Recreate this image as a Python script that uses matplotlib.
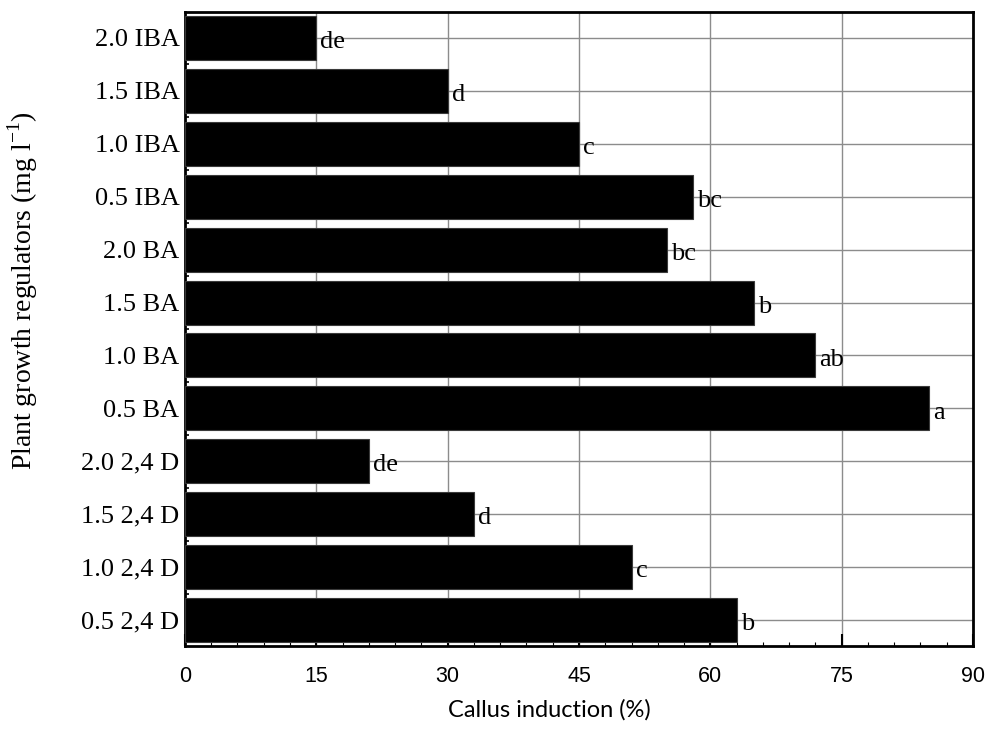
import numpy as np
import matplotlib.pyplot as plt
from matplotlib.ticker import MultipleLocator, FixedLocator

# bottom to top
treatments = ['0.5 2,4 D', '1.0 2,4 D', '1.5 2,4 D', '2.0 2,4 D',
              '0.5 BA', '1.0 BA', '1.5 BA', '2.0 BA',
              '0.5 IBA', '1.0 IBA', '1.5 IBA', '2.0 IBA']
callus = [63, 51, 33, 21, 85, 72, 65, 55, 58, 45, 30, 15]
letters = ['b', 'c', 'd', 'de', 'a', 'ab', 'b', 'bc', 'bc', 'c', 'd', 'de']
xticks = [0, 15, 30, 45, 60, 75, 90]

serif = 'Liberation Serif'
sans = 'Liberation Sans'

fig = plt.figure(figsize=(9.88, 7.29), dpi=100)
ax = fig.add_axes([0.1872, 0.1132, 0.7976, 0.8710])

y = np.arange(len(treatments))
ax.barh(y, callus, height=0.83, color='black', edgecolor='#3a3a3a',
        linewidth=0.8, zorder=3)

for yi, v, lab in zip(y, callus, letters):
    ax.annotate(lab, (v, yi), xytext=(3, -3), textcoords='offset points',
                ha='left', va='center', fontsize=19, family=serif, zorder=4)

ax.set_xlim(0, 90)
ax.set_ylim(-0.5, 11.5)
ax.set_xticks(xticks)
ax.set_xticklabels([str(t) for t in xticks], fontfamily=sans, fontsize=15.5)
ax.xaxis.set_minor_locator(MultipleLocator(3))
ax.set_yticks(y)
ax.set_yticklabels(treatments, fontfamily=serif, fontsize=19)
ax.yaxis.set_minor_locator(FixedLocator(np.arange(0.5, 11.5, 1)))

ax.grid(True, which='major', color='#8c8c8c', linewidth=1.0, zorder=0)
ax.set_axisbelow(True)

ax.tick_params(axis='x', which='major', direction='in', length=9, width=1.5,
               pad=14, top=False)
ax.tick_params(axis='x', which='minor', direction='in', length=3, width=0.8,
               top=False)
ax.tick_params(axis='y', which='major', length=0, pad=4)
ax.tick_params(axis='y', which='minor', direction='in', length=3, width=1.2,
               right=False)

for s in ax.spines.values():
    s.set_linewidth(2.0)

ax.set_xlabel('Callus induction (%)', family='Lato', fontsize=17)
ax.xaxis.set_label_coords(0.463, -0.083)
ax.set_ylabel('Plant growth regulators (mg l$^{\\mathregular{-1}}$)',
              family=serif, fontsize=20)
ax.yaxis.set_label_coords(-0.184, 0.56)

fig.savefig('out.png', dpi=100)
